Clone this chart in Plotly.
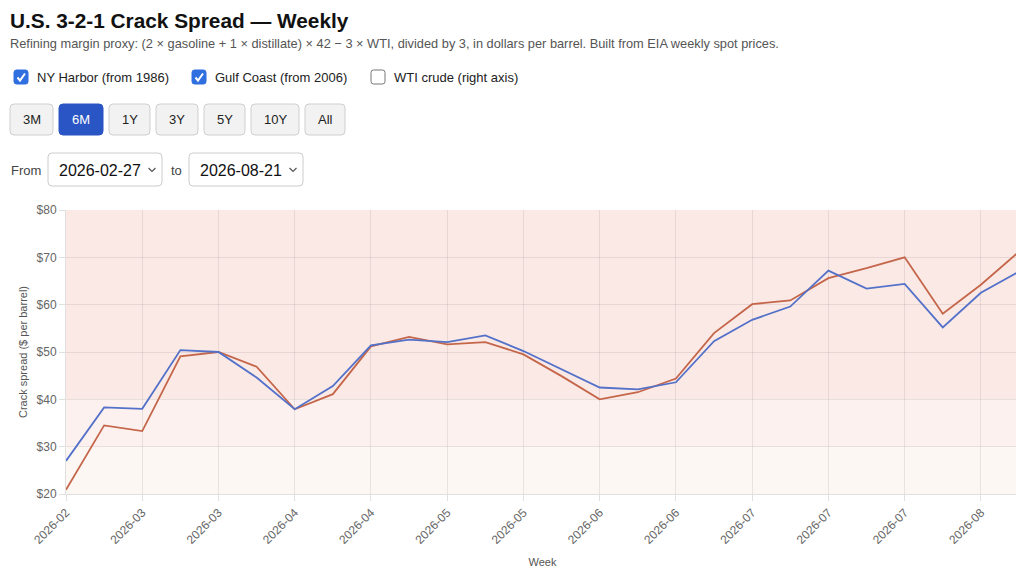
import plotly.graph_objects as go

# weekly spot-price crack spreads, $/bbl
weeks = [
    "2026-02-27", "2026-03-06", "2026-03-13", "2026-03-20", "2026-03-27",
    "2026-04-03", "2026-04-10", "2026-04-17", "2026-04-24", "2026-05-01",
    "2026-05-08", "2026-05-15", "2026-05-22", "2026-05-29", "2026-06-05",
    "2026-06-12", "2026-06-19", "2026-06-26", "2026-07-03", "2026-07-10",
    "2026-07-17", "2026-07-24", "2026-07-31", "2026-08-07", "2026-08-14",
    "2026-08-21",
]
ny_harbor = [27.0, 38.3, 38.0, 50.4, 50.0, 44.6, 37.9, 42.8, 51.4, 52.6,
             52.1, 53.5, 50.2, 46.3, 42.5, 42.1, 43.6, 52.3, 56.8, 59.6,
             67.2, 63.4, 64.4, 55.2, 62.5, 67.0]
gulf_coast = [20.9, 34.5, 33.3, 49.1, 50.0, 46.9, 37.9, 41.1, 51.2, 53.2,
              51.6, 52.1, 49.5, 44.9, 40.0, 41.5, 44.4, 54.0, 60.1, 60.9,
              65.6, 67.7, 70.0, 58.1, 64.2, 71.2]
tick_weeks = weeks[::2]
tick_labels = ["2026-02", "2026-03", "2026-03", "2026-04", "2026-04", "2026-05",
               "2026-05", "2026-06", "2026-06", "2026-07", "2026-07", "2026-07",
               "2026-08"]
# shaded margin zones (low, high, colour)
zones = [(20, 30, "#fdf7f3"), (30, 40, "#fcf1ee"), (40, 80, "#fbe9e6")]

# page has an 8px body margin, so the figure sits at (8, 8)
W, H = 1016, 563
L, R, T, B = 58, 5, 202, 77
PW, PH = W - L - R, H - T - B
FONT = "Liberation Sans, Arial, sans-serif"


# page pixel -> paper coords
def fx(x):
    return (x - 8 - L) / PW


def fy(y):
    return (H - B - (y - 8)) / PH


def rrect(x0, y0, x1, y1, r=4):
    # rounded rectangle in page pixels -> paper path
    rx, ry = r / PW, r / PH
    a, b, c, d = fx(x0), fx(x1), fy(y1), fy(y0)
    return (f"M{a+rx},{c} L{b-rx},{c} Q{b},{c} {b},{c+ry} L{b},{d-ry} "
            f"Q{b},{d} {b-rx},{d} L{a+rx},{d} Q{a},{d} {a},{d-ry} "
            f"L{a},{c+ry} Q{a},{c} {a+rx},{c} Z")


fig = go.Figure()
fig.add_trace(go.Scatter(x=weeks, y=gulf_coast, mode="lines", name="Gulf Coast",
                         line=dict(color="#c4664a", width=1.8)))
fig.add_trace(go.Scatter(x=weeks, y=ny_harbor, mode="lines", name="NY Harbor",
                         line=dict(color="#5371c9", width=1.8)))

shapes = []
for lo, hi, col in zones:
    shapes.append(dict(type="rect", xref="paper", yref="y", x0=0, x1=1, y0=lo, y1=hi,
                       fillcolor=col, line=dict(width=0), layer="below"))

ann = []


def text(x, y, s, size=13, color="#222", bold=False, anchor="left"):
    if bold:
        s = "<b>" + s + "</b>"
    ann.append(dict(xref="paper", yref="paper", x=fx(x), y=fy(y), text=s,
                    showarrow=False, xanchor=anchor, yanchor="middle",
                    font=dict(family=FONT, size=size, color=color)))


text(8, 20, "U.S. 3-2-1 Crack Spread — Weekly", size=20.8, color="#111", bold=True)
text(8, 44, "Refining margin proxy: (2 × gasoline + 1 × distillate) × 42 − 3 × WTI, "
     "divided by 3, in dollars per barrel. Built from EIA weekly spot prices.",
     size=12.8, color="#555")

# series checkboxes
checks = [(14, "NY Harbor (from 1986)", True), (192, "Gulf Coast (from 2006)", True),
          (371, "WTI crude (right axis)", False)]
for x, label, on in checks:
    if on:
        shapes.append(dict(type="path", xref="paper", yref="paper", path=rrect(x, 70, x + 14, 84, 2.5),
                           fillcolor="#2f6fe0", line=dict(color="#2f6fe0", width=1)))
        shapes.append(dict(type="path", xref="paper", yref="paper",
                           path=f"M{fx(x+3.5)},{fy(77.5)} L{fx(x+6)},{fy(80.5)} L{fx(x+11)},{fy(73.5)}",
                           line=dict(color="white", width=2)))
    else:
        shapes.append(dict(type="path", xref="paper", yref="paper", path=rrect(x, 70, x + 14, 84, 2.5),
                           fillcolor="white", line=dict(color="#777", width=1)))
    text(x + 21, 77, label, size=13, color="#222")

# range buttons
buttons = [("3M", 10, 53), ("6M", 59, 103), ("1Y", 109, 150), ("3Y", 156, 198),
           ("5Y", 204, 245), ("10Y", 251, 299), ("All", 305, 345)]
for label, x0, x1 in buttons:
    active = label == "6M"
    shapes.append(dict(type="path", xref="paper", yref="paper", path=rrect(x0, 104, x1, 135, 4),
                       fillcolor="#2a55c4" if active else "#f2f2f2",
                       line=dict(color="#2a55c4" if active else "#cfcfcf", width=1)))
    text((x0 + x1) / 2, 119.5, label, size=13, color="white" if active else "#222", anchor="center")

# date selects
text(9, 170, "From", size=13, color="#444")
text(169, 170, "to", size=13, color="#444")
for x0, x1, val in [(48, 162, "2026-02-27"), (189, 303, "2026-08-21")]:
    shapes.append(dict(type="path", xref="paper", yref="paper", path=rrect(x0, 153, x1, 186, 4),
                       fillcolor="white", line=dict(color="#cccccc", width=1)))
    text(x0 + 9, 170, val, size=16, color="#111")
    cx = x1 - 10
    shapes.append(dict(type="path", xref="paper", yref="paper",
                       path=f"M{fx(cx-3.5)},{fy(168)} L{fx(cx)},{fy(171.5)} L{fx(cx+3.5)},{fy(168)}",
                       line=dict(color="#555", width=1.2)))

fig.update_layout(
    width=W, height=H,
    margin=dict(l=L, r=R, t=T, b=B),
    paper_bgcolor="white", plot_bgcolor="white",
    showlegend=False, hovermode="x unified",
    font=dict(family=FONT, color="#666"),
    shapes=shapes, annotations=ann,
)
fig.update_xaxes(
    type="category", range=[0, len(weeks) - 1],
    tickvals=tick_weeks, ticktext=tick_labels, tickangle=-45,
    tickfont=dict(size=12, color="#666"),
    showgrid=True, gridcolor="rgba(0,0,0,0.08)",
    ticks="outside", ticklen=6, tickcolor="rgba(0,0,0,0.12)",
    showline=True, linecolor="rgba(0,0,0,0.12)",
    title=dict(text="Week", font=dict(size=11, color="#555"), standoff=12),
)
fig.update_yaxes(
    range=[20, 80], dtick=10, tickprefix="$",
    tickfont=dict(size=12, color="#666"),
    showgrid=True, gridcolor="rgba(0,0,0,0.08)", zeroline=False,
    ticks="outside", ticklen=6, tickcolor="rgba(0,0,0,0.12)",
    showline=True, linecolor="rgba(0,0,0,0.12)",
    title=dict(text="Crack spread ($ per barrel)", font=dict(size=11, color="#555"), standoff=6),
)

fig.write_html("out.html")
